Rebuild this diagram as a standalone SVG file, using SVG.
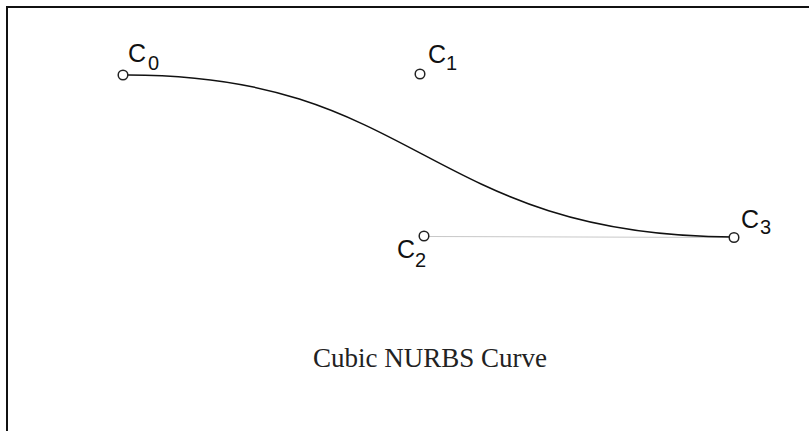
<svg xmlns="http://www.w3.org/2000/svg" width="809" height="431" viewBox="0 0 809 431">
<style>
.pt{fill:#fff;stroke:#222;stroke-width:1.5}
.lbl{font-family:"Liberation Sans",Arial,sans-serif;font-size:25px;fill:#111}
.sub{font-size:20px}
.curve{fill:none;stroke:#111;stroke-width:1.5}
.poly{fill:none;stroke:#c8c8c8;stroke-width:1.2}
.title{font-family:"Liberation Serif","Times New Roman",serif;font-size:27px;fill:#222}
</style>
<rect width="809" height="431" fill="#fff"/>
<path d="M7,431 V7 H809" fill="none" stroke="#111" stroke-width="2"/>
<g id="connectors">
<line class="poly" x1="428" y1="236.5" x2="729" y2="237.5"/>
<path class="curve" d="M123,75 C420,73 424,236 734,237"/>
</g>
<g id="C0">
<circle class="pt" cx="123" cy="75" r="4.8"/>
<text class="lbl" x="128" y="62">C</text><text class="lbl sub" x="148" y="70">0</text>
</g>
<g id="C1">
<circle class="pt" cx="420" cy="74" r="4.8"/>
<text class="lbl" x="428" y="63">C</text><text class="lbl sub" x="446" y="70">1</text>
</g>
<g id="C2">
<circle class="pt" cx="424" cy="236" r="4.8"/>
<text class="lbl" x="397" y="258">C</text><text class="lbl sub" x="415" y="267">2</text>
</g>
<g id="C3">
<circle class="pt" cx="734" cy="237.5" r="4.8"/>
<text class="lbl" x="741" y="228">C</text><text class="lbl sub" x="760" y="234">3</text>
</g>
<text class="title" x="313" y="367">Cubic NURBS Curve</text>
</svg>
